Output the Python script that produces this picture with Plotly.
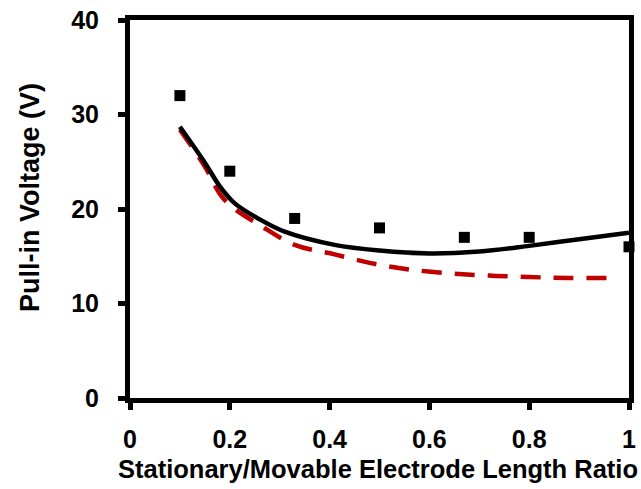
import plotly.graph_objects as go

# Measured data (squares)
meas_x = [0.1, 0.2, 0.33, 0.5, 0.67, 0.8, 1.0]
meas_y = [32, 24, 19, 18, 17, 17, 16]

# Model 1 (solid black)
solid_x = [0.1, 0.15, 0.18, 0.21, 0.26, 0.31, 0.41, 0.5, 0.6, 0.7, 0.8, 0.9, 1.0]
solid_y = [28.7, 24.9, 22.4, 20.6, 18.9, 17.6, 16.2, 15.6, 15.3, 15.5, 16.1, 16.8, 17.5]

# Model 2 (dashed red)
dash_x = [0.1, 0.15, 0.18, 0.205, 0.26, 0.33, 0.41, 0.49, 0.56, 0.64, 0.72, 0.8, 0.88, 0.98]
dash_y = [28.4, 24.5, 21.6, 20.2, 18.3, 16.2, 15.2, 14.2, 13.6, 13.2, 12.95, 12.8, 12.7, 12.7]

x_ticks = [0, 0.2, 0.4, 0.6, 0.8, 1]
x_ticklabels = ["0", "0.2", "0.4", "0.6", "0.8", "1"]
y_ticks = [0, 10, 20, 30, 40]

x_title = "Stationary/Movable Electrode Length Ratio"
y_title = "Pull-in Voltage (V)"

fig = go.Figure()
fig.add_trace(go.Scatter(x=dash_x, y=dash_y, mode="lines",
                         line=dict(color="#C00000", width=4.5, dash="20px,13px", shape="spline"),
                         showlegend=False))
fig.add_trace(go.Scatter(x=solid_x, y=solid_y, mode="lines",
                         line=dict(color="black", width=4.5, shape="spline"),
                         showlegend=False))
fig.add_trace(go.Scatter(x=meas_x, y=meas_y, mode="markers",
                         marker=dict(symbol="square", size=11, color="black"),
                         cliponaxis=False, showlegend=False))

font_family = "Liberation Sans, Arial, sans-serif"
fig.update_layout(
    width=641, height=489,
    margin=dict(l=130, r=12, t=20, b=91, autoexpand=False),
    paper_bgcolor="white", plot_bgcolor="white",
    font=dict(family=font_family, color="black"),
    annotations=[
        dict(text="<b>" + x_title + "</b>", xref="paper", yref="paper",
             x=0.5, y=0, xanchor="center", yanchor="top", xshift=-2, yshift=-55,
             showarrow=False, font=dict(size=25.5, family=font_family, color="black")),
        dict(text="<b>" + y_title + "</b>", xref="paper", yref="paper",
             x=0, y=0.5, xanchor="center", yanchor="middle", xshift=-100, yshift=11,
             textangle=-90, showarrow=False,
             font=dict(size=27, family=font_family, color="black")),
    ],
)
fig.update_xaxes(
    range=[0, 1], tickvals=x_ticks, ticktext=x_ticklabels,
    showgrid=False, zeroline=False,
    showline=True, linecolor="black", linewidth=5, mirror=True,
    ticks="outside", ticklen=7, tickwidth=5, tickcolor="black",
    ticklabelstandoff=8,
    tickfont=dict(size=25, family=font_family, weight="bold"),
)
fig.update_yaxes(
    range=[0, 40], tickvals=y_ticks,
    showgrid=False, zeroline=False,
    showline=True, linecolor="black", linewidth=5, mirror=True,
    ticks="outside", ticklen=7, tickwidth=5, tickcolor="black",
    ticklabelstandoff=14,
    tickfont=dict(size=25, family=font_family, weight="bold"),
)

fig.write_html("out.html")
